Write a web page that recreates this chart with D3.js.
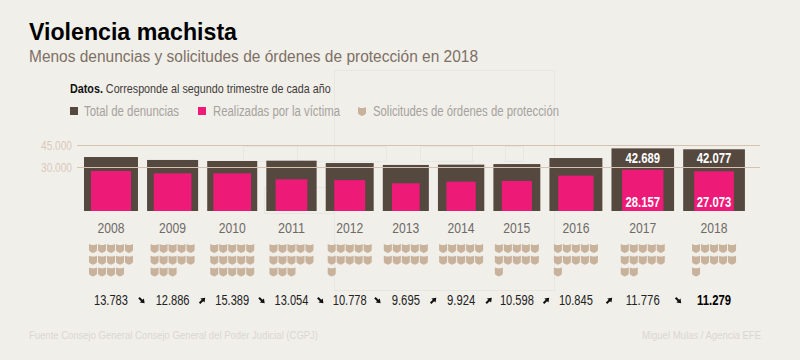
<!DOCTYPE html>
<html>
<head>
<meta charset="utf-8">
<script src="https://cdn.jsdelivr.net/npm/d3@7"></script>
<style>
  html, body { margin: 0; padding: 0; background: #f1efea; }
  svg { display: block; }
  text { font-family: "Liberation Sans", Arial, sans-serif; }
</style>
</head>
<body>
<svg id="chart" width="800" height="360"></svg>
<script>
'use strict';

const years = [2008, 2009, 2010, 2011, 2012, 2013, 2014, 2015, 2016, 2017, 2018];
const totalDenuncias = [36800, 34800, 34100, 34300, 32700, 31400, 31600, 32000, 36100, 42689, 42077];
const realizadasVictima = [27300, 25700, 25700, 21600, 21100, 18900, 20000, 20500, 24100, 28157, 27073];
const solicitudesOrdenes = [13783, 12886, 15389, 13054, 10778, 9695, 9924, 10598, 10845, 11776, 11279];
const yTicks = [30000, 45000];
const labelledYears = [2017, 2018];
const legendItems = ['Total de denuncias', 'Realizadas por la víctima', 'Solicitudes de órdenes de protección'];

const COLOR = {
  bg: '#f1efea',
  dark: '#54483f',
  pink: '#ed1a78',
  shield: '#c9b29b',
  grid: '#d6c2b0',
  tick: '#d9c9ba',
  legend: '#a6a29d',
  sub: '#7d6f64',
  year: '#6e6a66',
  foot: '#d9d7d2',
  ghost: '#e8e6e1'
};

const svg = d3.select('#chart');
const fmt = d3.formatLocale({ decimal: ',', thousands: '.', grouping: [3], currency: ['', ''] }).format(',d');

const BASE_Y = 211;
const y = d3.scaleLinear().domain([0, 45000]).range([BASE_Y, BASE_Y - 66]);
const side = (v) => BASE_Y - y(v); // the bars are squares: width = height

// squares are laid out one after another with a fixed gap
const START_X = 84;
const GAP = 9.1;
const centers = [];
totalDenuncias.reduce((x, v) => {
  centers.push(x + side(v) / 2);
  return x + side(v) + GAP;
}, START_X);

function addText(x, yPos, str, opts) {
  return svg.append('text')
    .attr('x', x)
    .attr('y', yPos)
    .attr('font-size', opts.size)
    .attr('font-weight', opts.weight || 'normal')
    .attr('fill', opts.fill)
    .attr('text-anchor', opts.anchor || 'start')
    .attr('textLength', opts.len || null)
    .attr('lengthAdjust', opts.len ? 'spacingAndGlyphs' : null)
    .text(str);
}

// faint leftover boxes in the background of the original
const ghosts = [[334.5, 70.5, 220, 220], [243.5, 146.5, 54, 15], [297.5, 146.5, 89, 15],
  [420.5, 146.5, 52, 15], [505.5, 146.5, 18, 15], [264.5, 187.5, 70, 26]];
svg.append('g').selectAll('rect').data(ghosts).join('rect')
  .attr('x', (d) => d[0]).attr('y', (d) => d[1])
  .attr('width', (d) => d[2]).attr('height', (d) => d[3])
  .attr('fill', 'none').attr('stroke', COLOR.ghost);

// titles
addText(29, 40, 'Violencia machista', { size: 24, weight: 'bold', fill: '#000', len: 208 });
addText(29, 62, 'Menos denuncias y solicitudes de órdenes de protección en 2018', { size: 16, fill: COLOR.sub, len: 449 });

// note line: squeezed with a transform so the bold and plain runs stay in one text
const note = addText(0, 0, '', { size: 13, fill: '#3f3b38' });
note.append('tspan').attr('font-weight', 'bold').attr('fill', '#111').text('Datos.');
note.append('tspan').text(' Corresponde al segundo trimestre de cada año');
note.attr('transform', `translate(70,93) scale(${261 / note.node().getComputedTextLength()},1)`);

// shield icon, origin at top-left
const shieldPath = 'M0,0 L2.4,0.9 L5.6,0.9 L8,0 L8,6 Q8,7.6 4,9 Q0,7.6 0,6 Z';

// legend
svg.append('rect').attr('x', 70).attr('y', 107).attr('width', 8).attr('height', 8).attr('fill', COLOR.dark);
addText(84, 116, legendItems[0], { size: 14, fill: COLOR.legend, len: 95 });
svg.append('rect').attr('x', 198).attr('y', 107).attr('width', 8).attr('height', 8).attr('fill', COLOR.pink);
addText(213, 116, legendItems[1], { size: 14, fill: COLOR.legend, len: 127 });
svg.append('path').attr('d', shieldPath).attr('transform', 'translate(358,107)').attr('fill', COLOR.shield);
addText(373, 116, legendItems[2], { size: 14, fill: COLOR.legend, len: 186 });

// bars
svg.append('g').selectAll('rect').data(totalDenuncias).join('rect')
  .attr('x', (d, i) => centers[i] - side(d) / 2)
  .attr('y', (d) => y(d))
  .attr('width', (d) => side(d))
  .attr('height', (d) => side(d))
  .attr('fill', COLOR.dark);

svg.append('g').selectAll('rect').data(realizadasVictima).join('rect')
  .attr('x', (d, i) => centers[i] - side(d) / 2)
  .attr('y', (d) => y(d))
  .attr('width', (d) => side(d))
  .attr('height', (d) => side(d))
  .attr('fill', COLOR.pink);

// y axis, the tick lines run over the bars
const axis = svg.append('g')
  .attr('transform', 'translate(77,0)')
  .call(d3.axisRight(y).tickValues(yTicks).tickSize(683).tickFormat(fmt));
axis.select('.domain').remove();
axis.selectAll('line').attr('stroke', COLOR.grid);
axis.selectAll('text')
  .attr('x', -5)
  .attr('dy', '0.32em')
  .attr('text-anchor', 'end')
  .attr('font-size', 13)
  .attr('fill', COLOR.tick)
  .attr('font-family', '"Liberation Sans", Arial, sans-serif')
  .attr('textLength', 31)
  .attr('lengthAdjust', 'spacingAndGlyphs');

// value labels for the last two years
labelledYears.forEach((yr) => {
  const i = years.indexOf(yr);
  addText(centers[i], 163, fmt(totalDenuncias[i]), { size: 14, weight: 'bold', fill: '#fff', anchor: 'middle', len: 34.5 });
  addText(centers[i], 207, fmt(realizadasVictima[i]), { size: 14, weight: 'bold', fill: '#fff', anchor: 'middle', len: 34.5 });
});

// year labels
years.forEach((yr, i) => {
  addText(centers[i], 233, yr, { size: 14, fill: COLOR.year, anchor: 'middle', len: 27 });
});

// shields: one per thousand requests, five to a row
const COLS = 5;
const STEP_X = 9;
const STEP_Y = 11.7;
solicitudesOrdenes.forEach((v, i) => {
  const n = Math.round(v / 1000);
  svg.append('g')
    .attr('transform', `translate(${centers[i] - (COLS * STEP_X - 1) / 2},244)`)
    .selectAll('path').data(d3.range(n)).join('path')
    .attr('d', shieldPath)
    .attr('transform', (d) => `translate(${(d % COLS) * STEP_X},${Math.floor(d / COLS) * STEP_Y})`)
    .attr('fill', COLOR.shield);
});

// totals of requests and the arrows between them
solicitudesOrdenes.forEach((v, i) => {
  const last = i === solicitudesOrdenes.length - 1;
  const label = fmt(v);
  addText(centers[i], 305, label, { size: 14, weight: last ? 'bold' : 'normal', fill: last ? '#000' : '#222', anchor: 'middle', len: label.length * 5.65 });
  if (last) return;
  const up = solicitudesOrdenes[i + 1] > v;
  const cx = (centers[i] + centers[i + 1]) / 2;
  svg.append('path')
    .attr('transform', `translate(${cx},300.5) rotate(${up ? -45 : 45})`)
    .attr('d', 'M-4,-1 L0,-1 L0,-3 L4,0 L0,3 L0,1 L-4,1 Z')
    .attr('fill', '#111');
});

// footer
addText(29, 339, 'Fuente Consejo General Consejo General del Poder Judicial (CGPJ)', { size: 11.5, fill: COLOR.foot, len: 289 });
addText(761, 339, 'Miguel Mulas / Agencia EFE', { size: 11.5, fill: COLOR.foot, anchor: 'end', len: 119 });
</script>
</body>
</html>
